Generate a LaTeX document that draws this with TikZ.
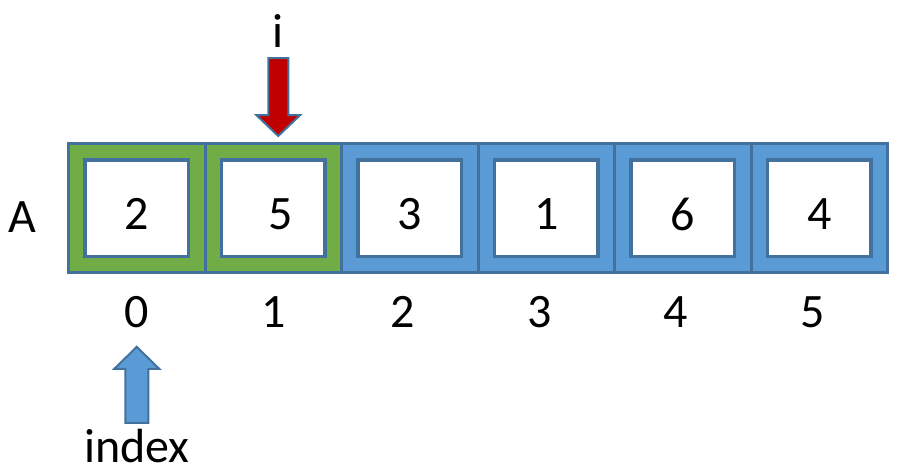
\documentclass[tikz,border=0pt]{standalone}
\usepackage{fontspec}
\setmainfont{Carlito}
\usetikzlibrary{positioning,calc}
\definecolor{cellgreen}{HTML}{70AD47}
\definecolor{cellblue}{HTML}{5B9BD5}
\definecolor{edgeblue}{HTML}{41719C}
\definecolor{pointred}{HTML}{C00000}
\tikzset{
    cell/.style = {draw=edgeblue, rectangle, line width=3pt,
        minimum width=136.5pt, 
        minimum height=129pt, inner sep=0pt},
    slot/.style = {draw=edgeblue, fill=white, rectangle, line width=3.5pt,
        minimum width=103.5pt, 
        minimum height=96.5pt, inner sep=0pt},
    lbl/.style = {font=\fontsize{48}{50}\selectfont, inner sep=0pt},
    blockarrow/.style = {draw=edgeblue, line width=2pt, line join=miter}
}

\begin{document}
\begin{tikzpicture}[x=1pt, y=1pt, node distance=136.5pt]
    \useasboundingbox (0,0) rectangle (902,-466);
    % the array
    \node [cell, fill=cellgreen] (c0) at (136.75,-208) {};
    \foreach \col [count=\n from 1, remember=\n as \p (initially 0)] in {cellgreen,cellblue,cellblue,cellblue,cellblue}
        \node [cell, fill=\col, right of=c\p] (c\n) {};
    \foreach \v/\dx/\kx [count=\n from 0] in {2/0/0,5/7/0,3/0/-7,1/0/-7,6/0/-7,4/0/-7} {
        \node [slot] (s\n) at (c\n) {};
        \node [lbl] (v\n) at ($(s\n)+(\dx,-6)$) {\v};
        \node [lbl, below=22pt of c\n, xshift=\kx] (k\n) {\n};
    }
    \node [lbl] (name) at ($(c0.west)+(-45,-9)$) {A};
    % pointer i
    \coordinate (itip) at ($(c1.north)+(5,6)$);
    \draw [blockarrow, fill=pointred] (itip) -- ++(22,21) -- ++(-12,0) -- ++(0,57) coordinate (itop)
        -- ++(-20,0) -- ++(0,-57) -- ++(-12,0) -- cycle;
    \node [lbl, above=10pt of itop, xshift=-10pt] (ilbl) {i};
    % pointer index
    \coordinate (xtip) at ($(k0.south)+(0,-19)$);
    \draw [blockarrow, fill=cellblue] (xtip) -- ++(22.5,-22) -- ++(-11,0) -- ++(0,-54)
        -- ++(-23,0) coordinate (xbot) -- ++(0,54) -- ++(-11,0) -- cycle;
    \node [lbl, below=6pt of xbot, xshift=11.5pt] (xlbl) {index};
\end{tikzpicture}
\end{document}
